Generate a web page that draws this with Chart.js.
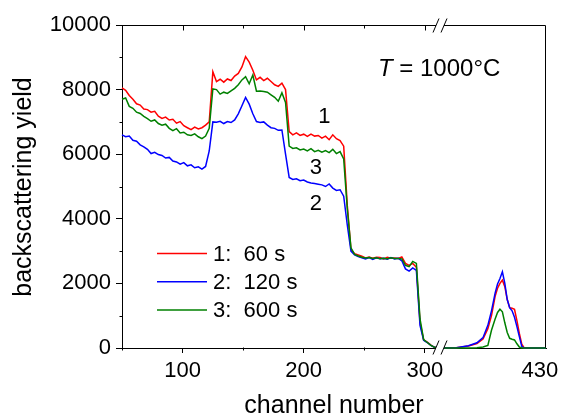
<!DOCTYPE html>
<html><head><meta charset="utf-8">
<script src="https://cdn.jsdelivr.net/npm/chart.js@4/dist/chart.umd.min.js"></script>
<style>html,body{margin:0;padding:0;background:#fff}canvas{display:block}</style>
</head><body>
<canvas id="c" width="561" height="417"></canvas>
<script>
const FONT = '"Liberation Sans", Arial, sans-serif';
// axis break: real channels above BREAK_AT are shifted left by BREAK_GAP
const BREAK_AT = 312, BREAK_GAP = 30;

const channelsLow = [
  50,53,56,59,62,65,68,71,74,77,
  80,83,86,89,92,95,98,101,104,107,
  110,113,116,119,122,125,128,131,134,137,
  140,143,146,149,152,155,158,161,164,167,
  170,173,176,179,182,185,188,191,194,197,
  200,203,206,209,212,215,218,221,224,227,
  230,233,236,239,242,245,248,251,254,257,
  260,263,266,269,272,275,278,281,284,287,
  290,293,296,299,302,305,308,311];
const yield60Low = [
  8050,7980,7820,7700,7560,7520,7400,7380,7300,7330,
  7180,7110,7150,7060,7080,6960,7010,6880,6820,6760,
  6840,6780,6820,6900,7000,8550,8250,8320,8230,8330,
  8280,8420,8500,8700,9020,8850,8600,8300,8380,8280,
  8350,8250,8150,8100,8200,8000,6700,6600,6660,6580,
  6620,6550,6620,6560,6580,6500,6560,6450,6600,6480,
  6420,6250,4400,3050,2920,2880,2840,2790,2820,2780,
  2810,2800,2760,2810,2780,2790,2770,2820,2620,2560,
  2620,2500,800,250,180,90,20,0];
const yield120Low = [
  6600,6540,6560,6430,6400,6290,6230,6150,6020,6060,
  5990,5960,5880,5900,5790,5760,5690,5740,5640,5670,
  5580,5610,5540,5620,6100,7000,6990,7020,6950,7010,
  6980,7060,7250,7500,7760,7550,7250,7010,6980,7000,
  6900,6820,6800,6740,6750,6000,5280,5220,5240,5180,
  5200,5140,5110,5090,5070,5050,5000,5080,4950,4880,
  4900,4700,3800,3000,2880,2830,2790,2760,2800,2740,
  2790,2760,2780,2750,2800,2760,2780,2700,2450,2380,
  2480,2400,700,240,170,80,20,0];
const yield600Low = [
  7700,7740,7480,7420,7300,7260,7170,7100,7020,7060,
  6950,6900,6930,6800,6730,6790,6660,6680,6600,6580,
  6630,6540,6480,6560,6800,8020,8000,7860,7920,7880,
  7960,8040,8150,8300,8400,8180,8450,7950,7960,7940,
  7920,7840,7760,7640,7900,7600,6250,6180,6200,6130,
  6160,6100,6170,6080,6120,6060,6110,6050,6150,6020,
  6080,5850,4300,3100,2900,2850,2810,2790,2800,2770,
  2790,2760,2780,2760,2790,2770,2770,2760,2560,2520,
  2680,2620,900,260,170,80,20,0];

const channelsHigh = [343,356,366,373,378,382,385,388,390,392,394,396,398,400,402,404,406,408,410,412,415,430];
const yield60High  = [0,10,60,140,280,600,1000,1600,1850,2000,2100,1900,1500,1250,1230,1200,850,450,120,0,0,0];
const yield120High = [0,10,70,160,320,700,1150,1700,1980,2150,2360,2000,1500,1250,1150,950,660,350,50,0,0,0];
const yield600High = [0,0,0,10,30,80,550,900,1100,1200,1120,780,480,300,270,250,130,30,0,0,0,0];

const seriesLegend = ['1:  60 s', '2:  120 s', '3:  600 s'];
const seriesTags = ['1', '2', '3'];
const seriesColors = ['#ff0000', '#0000ff', '#008000'];
const xMajorTicks = [100, 200, 300, 430];
const xMinorTicks = [50, 150, 250];
const yMajorTicks = [0, 2000, 4000, 6000, 8000, 10000];
const yMinorTicks = [1000, 3000, 5000, 7000, 9000];
const X_MIN = 50, X_MAX = 430, Y_MIN = 0, Y_MAX = 10000;
// curve tag anchors (channel, yield)
const tagAnchors = [[217, 7140], [210, 4460], [210, 5590]];

function toAxis(ch) { return ch > BREAK_AT ? ch - BREAK_GAP : ch; }
function fromAxis(v) { return v > BREAK_AT ? v + BREAK_GAP : v; }
function points(chL, vL, chH, vH) {
  const out = [];
  chL.forEach((c, i) => out.push({x: toAxis(c), y: vL[i]}));
  chH.forEach((c, i) => out.push({x: toAxis(c), y: vH[i]}));
  return out;
}
const seriesData = [
  points(channelsLow, yield60Low, channelsHigh, yield60High),
  points(channelsLow, yield120Low, channelsHigh, yield120High),
  points(channelsLow, yield600Low, channelsHigh, yield600High)
];

const decor = {
  id: 'decor',
  afterDatasetsDraw(chart) {
    const {ctx, chartArea: a, scales: {x, y}} = chart;
    const L = Math.round(a.left) + 0.5, R = Math.round(a.right) - 0.5;
    const T = Math.round(a.top) + 0.5, B = Math.round(a.bottom) - 0.5;
    ctx.save();
    ctx.strokeStyle = '#000';
    ctx.lineWidth = 1;
    ctx.beginPath();
    ctx.moveTo(L, T); ctx.lineTo(R, T); ctx.lineTo(R, B);
    yMinorTicks.forEach(v => { const p = Math.round(y.getPixelForValue(v)) + 0.5; ctx.moveTo(L, p); ctx.lineTo(L - 3, p); });
    xMinorTicks.forEach(v => { const p = Math.round(x.getPixelForValue(toAxis(v))) + 0.5; ctx.moveTo(p, B); ctx.lineTo(p, B + 3); ctx.moveTo(p, T); ctx.lineTo(p, T + 3); });
    xMajorTicks.filter(v => v <= BREAK_AT).forEach(v => { const p = Math.round(x.getPixelForValue(toAxis(v))) + 0.5; ctx.moveTo(p, T); ctx.lineTo(p, T + 5); });
    ctx.stroke();
    // axis break marks
    const bx = x.getPixelForValue(BREAK_AT + 0.5);
    [B, T].forEach(yy => {
      ctx.fillStyle = '#fff';
      ctx.fillRect(bx - 4, yy - 3, 8, 6);
      ctx.beginPath();
      ctx.moveTo(bx - 7, yy + 7); ctx.lineTo(bx - 1, yy - 7);
      ctx.moveTo(bx + 1, yy + 7); ctx.lineTo(bx + 7, yy - 7);
      ctx.stroke();
    });
    // texts
    ctx.fillStyle = '#000';
    ctx.font = '25px ' + FONT;
    ctx.textAlign = 'center';
    ctx.textBaseline = 'alphabetic';
    ctx.fillText('channel number', 334, 413);
    ctx.save();
    ctx.translate(24, 187);
    ctx.rotate(-Math.PI / 2);
    ctx.textBaseline = 'middle';
    ctx.fillText('backscattering yield', 0, 0);
    ctx.restore();
    ctx.textAlign = 'left';
    ctx.font = 'italic 24px ' + FONT;
    const tx = 378, ty = 76;
    ctx.fillText('T', tx, ty);
    const tw = ctx.measureText('T').width;
    ctx.font = '24px ' + FONT;
    ctx.fillText(' = 1000°C', tx + tw, ty);
    ctx.font = '22px ' + FONT;
    ctx.textAlign = 'center';
    ctx.textBaseline = 'middle';
    tagAnchors.forEach((t, i) => ctx.fillText(seriesTags[i], x.getPixelForValue(toAxis(t[0])), y.getPixelForValue(t[1])));
    ctx.textAlign = 'left';
    seriesLegend.forEach((lab, i) => {
      const ly = 253.5 + i * 28.3;
      ctx.strokeStyle = seriesColors[i];
      ctx.lineWidth = 1.5;
      ctx.beginPath(); ctx.moveTo(157, ly); ctx.lineTo(207, ly); ctx.stroke();
      ctx.fillText(lab, 213, ly + 1);
    });
    ctx.restore();
  }
};

new Chart(document.getElementById('c'), {
  type: 'line',
  data: {
    datasets: seriesData.map((d, i) => ({
      label: seriesLegend[i], data: d, borderColor: seriesColors[i], backgroundColor: seriesColors[i],
      borderWidth: 1.5, pointRadius: 0, tension: 0, fill: false, order: 3 - i, clip: false
    }))
  },
  options: {
    responsive: false, animation: false, devicePixelRatio: 1,
    layout: {padding: {left: 0, top: 25, right: 15, bottom: 0}},
    plugins: {legend: {display: false}, tooltip: {enabled: false}},
    scales: {
      x: {
        type: 'linear', min: toAxis(X_MIN), max: toAxis(X_MAX),
        afterBuildTicks: s => { s.ticks = xMajorTicks.map(v => ({value: toAxis(v)})); },
        afterFit: s => { s.height = 69; s.paddingLeft = 0; s.paddingRight = 0; },
        ticks: {
          callback: v => { const r = fromAxis(v); return r === X_MAX ? r + '\u2007' : String(r); },
          font: {family: FONT, size: 22}, color: '#000', padding: 5, maxRotation: 0, autoSkip: false
        },
        grid: {drawOnChartArea: false, tickLength: 5, color: '#000',
          tickColor: c => (c.tick && fromAxis(c.tick.value) === X_MAX) ? 'rgba(0,0,0,0)' : '#000'},
        border: {color: '#000', width: 1}
      },
      y: {
        min: Y_MIN, max: Y_MAX,
        afterBuildTicks: s => { s.ticks = yMajorTicks.map(v => ({value: v})); },
        afterFit: s => { s.width = 122; },
        ticks: {callback: v => String(v), font: {family: FONT, size: 22}, color: '#000', padding: 5},
        grid: {drawOnChartArea: false, tickLength: 6, color: '#000'},
        border: {color: '#000', width: 1}
      }
    }
  },
  plugins: [decor]
});
</script>
</body></html>
